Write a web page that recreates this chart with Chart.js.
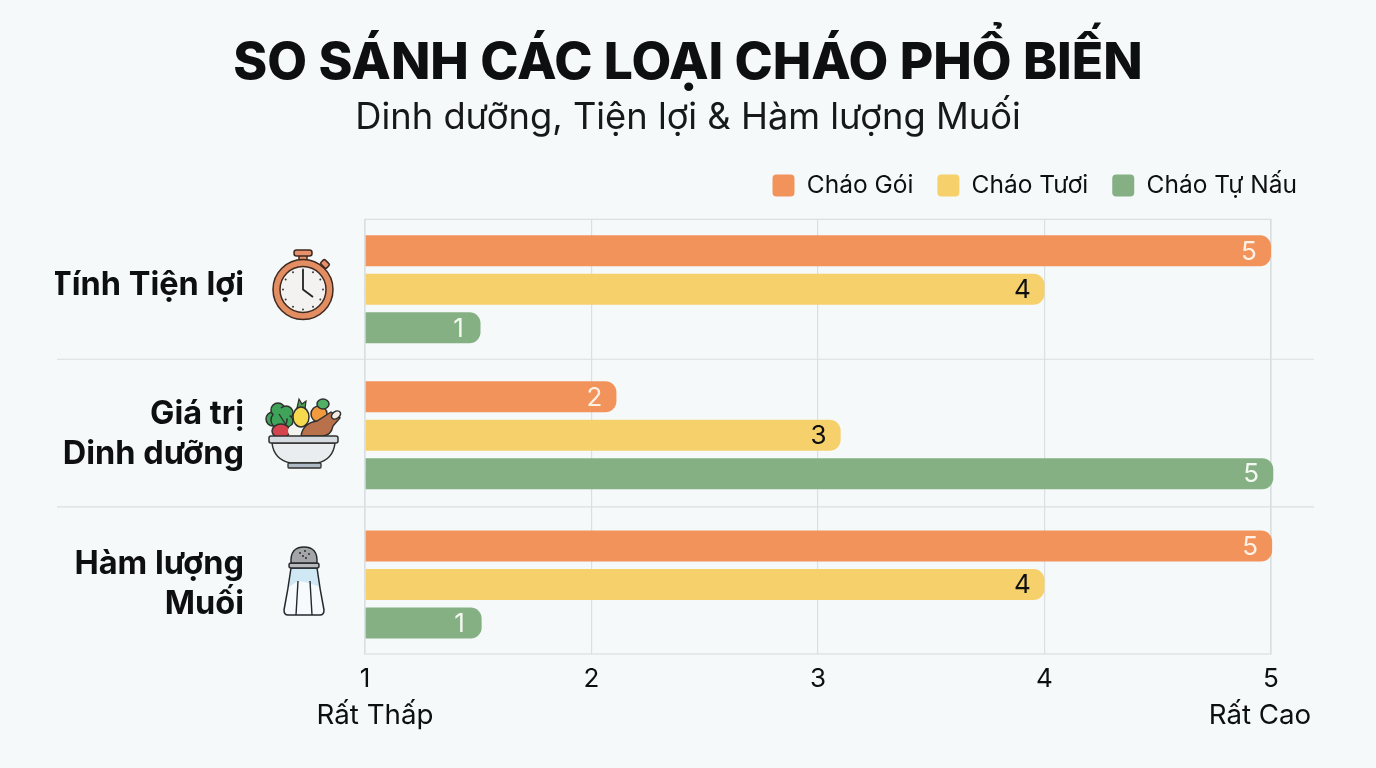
<!DOCTYPE html>
<html lang="vi"><head><meta charset="utf-8">
<script src="https://cdn.jsdelivr.net/npm/chart.js@4"></script>
<style>html,body{margin:0;padding:0;background:#f5f9fa;overflow:hidden}canvas{display:block}</style>
</head><body><canvas id="c" width="1376" height="768"></canvas>
<script>
const categories = [["Tính Tiện lợi"], ["Giá trị", "Dinh dưỡng"], ["Hàm lượng", "Muối"]];
const seriesNames = ["Cháo Gói", "Cháo Tươi", "Cháo Tự Nấu"];
const chaoGoiBars = [5.0, 2.11, 5.005];
const chaoTuoiBars = [4.0, 3.1, 4.0];
const chaoTuNauBars = [1.51, 5.01, 1.515];
const chaoGoiScores = [5, 2, 5];
const chaoTuoiScores = [4, 3, 4];
const chaoTuNauScores = [1, 5, 1];
const axisTicks = [1, 2, 3, 4, 5];
const axisEndLabels = ["Rất Thấp", "Rất Cao"];
const titleText = "SO SÁNH CÁC LOẠI CHÁO PHỔ BIẾN";
const subtitleText = "Dinh dưỡng, Tiện lợi & Hàm lượng Muối";

const FONT = "Inter, 'Noto Sans', sans-serif";
const INK = "#0e0f10", GRID = "#d9dfe2";
const ORANGE = "#f2935c", YELLOW = "#f6d16b", GREEN = "#85b084";
const rowNudge = [-2.5, -1.5, 3];
const labelNudge = [-4, -1, 0];

class RowScale extends Chart.CategoryScale {
  static id = "rows";
  getPixelForValue(v) {
    const i = typeof v === "number" ? v : this.getLabels().indexOf(v);
    return super.getPixelForValue(v) + (rowNudge[i] || 0);
  }
  getPixelForTick(i) {
    return super.getPixelForTick(i) + (labelNudge[i] || 0);
  }
}
Chart.register(RowScale);

const scoresByDataset = [chaoGoiScores, chaoTuoiScores, chaoTuNauScores];
const labelColors = ["#fdf0e4", INK, "#f3f8f1"];

function rr(c, x, y, w, h, r) { c.beginPath(); c.roundRect(x, y, w, h, r); }
function paint(c, fill, stroke, lw) {
  if (fill) { c.fillStyle = fill; c.fill(); }
  if (stroke) { c.strokeStyle = stroke; c.lineWidth = lw || 1.5; c.stroke(); }
}
function blob(c, x, y, rx, ry, fill, stroke, rot) {
  c.beginPath(); c.ellipse(x, y, rx, ry, rot || 0, 0, Math.PI * 2); paint(c, fill, stroke, 1.5);
}
function drawWatch(c) {
  const o = "#3f2a20", cx = 303, cy = 289.5;
  rr(c, 299, 255, 8, 7, 1); paint(c, "#e6916a", o, 1.5);
  rr(c, 294, 250, 18, 6, 2.5); paint(c, "#e6916a", o, 1.5);
  c.save(); c.translate(325, 264); c.rotate(Math.PI / 4);
  rr(c, -4, -3, 8, 6, 1.5); paint(c, "#e6916a", o, 1.5); c.restore();
  blob(c, cx, cy, 30, 30, "#e28d62", o);
  blob(c, cx, cy, 23, 23, "#f4f2f0", o);
  c.fillStyle = "#3b3b3b";
  for (let i = 0; i < 12; i++) {
    const a = i * Math.PI / 6;
    c.beginPath(); c.arc(cx + Math.cos(a) * 20, cy + Math.sin(a) * 20, 1, 0, 7); c.fill();
  }
  c.beginPath(); c.moveTo(cx, 270); c.lineTo(cx, cy); c.lineTo(313, 297);
  c.strokeStyle = "#222"; c.lineWidth = 1.8; c.stroke();
}
function drawBowl(c) {
  const o = "#30302e";
  [[273, 419, 7], [278, 410, 7], [286, 413, 7], [287, 421, 6], [279, 420, 8]].forEach(l => blob(c, l[0], l[1], l[2], l[2], "#3fa45a", o));
  [[279, 420, 7], [278, 412, 5], [285, 414, 5]].forEach(l => blob(c, l[0], l[1], l[2], l[2], "#3fa45a", null));
  c.beginPath(); c.moveTo(279, 414); c.lineTo(288, 428); c.strokeStyle = o; c.lineWidth = 1.3; c.stroke();
  blob(c, 281, 431, 9, 7, "#d5444c", o);
  blob(c, 294, 431, 6, 6, "#f3f3f0", null);
  c.beginPath(); c.moveTo(297, 408); c.lineTo(299, 399); c.lineTo(302, 404); c.lineTo(306, 401); c.lineTo(305, 409);
  c.closePath(); paint(c, "#4aa255", o, 1.2);
  blob(c, 301, 417, 8, 10, "#f7d94e", o);
  blob(c, 319, 414, 8, 8, "#f29a3e", o);
  blob(c, 323, 404, 6, 5, "#4fb066", o);
  c.beginPath(); c.moveTo(301, 436); c.quadraticCurveTo(303, 423, 317, 421);
  c.lineTo(331, 412); c.lineTo(340, 418); c.lineTo(333, 426); c.quadraticCurveTo(331, 436, 322, 436);
  c.closePath(); paint(c, "#b8714a", o, 1.4);
  blob(c, 336, 415, 5, 3.5, "#f3ece6", o, -0.6);
  c.beginPath(); c.moveTo(272, 443); c.lineTo(335, 443);
  c.quadraticCurveTo(333, 460, 317, 463); c.lineTo(291, 463); c.quadraticCurveTo(274, 460, 272, 443);
  c.closePath(); paint(c, "#e9edf0", o, 1.5);
  rr(c, 269, 436, 69, 7, 2); paint(c, "#d5dbe0", o, 1.5);
  rr(c, 288, 463, 33, 5, 1); paint(c, "#aebbc6", o, 1.3);
}
function drawShaker(c) {
  const o = "#24282c";
  c.beginPath(); c.moveTo(291, 568); c.lineTo(317, 568); c.quadraticCurveTo(320, 590, 324, 610);
  c.quadraticCurveTo(324, 615, 320, 615); c.lineTo(288, 615); c.quadraticCurveTo(284, 615, 284, 610);
  c.quadraticCurveTo(288, 590, 291, 568); c.closePath(); paint(c, "#f6fafc", null);
  c.beginPath(); c.moveTo(291, 568); c.lineTo(317, 568); c.lineTo(320, 587); c.quadraticCurveTo(308, 582, 298, 581);
  c.lineTo(289, 587); c.closePath(); paint(c, "#cfe8f3", null);
  c.beginPath(); c.moveTo(291, 568); c.lineTo(317, 568); c.quadraticCurveTo(320, 590, 324, 610);
  c.quadraticCurveTo(324, 615, 320, 615); c.lineTo(288, 615); c.quadraticCurveTo(284, 615, 284, 610);
  c.quadraticCurveTo(288, 590, 291, 568); c.closePath(); paint(c, null, o, 1.5);
  c.beginPath(); c.moveTo(298, 581); c.lineTo(296, 615); c.moveTo(310, 581); c.lineTo(312, 615);
  c.strokeStyle = o; c.lineWidth = 1.4; c.stroke();
  rr(c, 289, 563, 30, 5, 2); paint(c, "#b7b9bb", o, 1.4);
  c.beginPath(); c.moveTo(291, 563); c.quadraticCurveTo(290, 547, 304, 547); c.quadraticCurveTo(318, 547, 317, 563);
  c.closePath(); paint(c, "#a3a5a8", o, 1.4);
  c.fillStyle = "#222";
  [[300, 553], [305, 551], [309, 554], [303, 556], [306, 558]].forEach(p => {
    c.beginPath(); c.arc(p[0], p[1], 0.9, 0, 7); c.fill();
  });
}

const frame = {
  id: "frame",
  beforeLayout(chart) {
    const lg = chart.legend;
    if (lg && !lg._wrapped) {
      const f = lg.fit;
      lg.fit = function () { f.call(this); this.height = 70; };
      lg._wrapped = true;
    }
  },
  beforeDatasetsDraw(chart) {
    const c = chart.ctx, a = chart.chartArea;
    c.save(); c.strokeStyle = GRID; c.lineWidth = 1.2;
    c.strokeRect(a.left, a.top, a.right - a.left, a.bottom - a.top);
    [0, 1].forEach(i => {
      const top = chart.getDatasetMeta(2).data[i], bot = chart.getDatasetMeta(0).data[i + 1];
      const mid = (top.y + bot.y) / 2 - 3;
      c.beginPath(); c.moveTo(57, mid); c.lineTo(1314, mid); c.stroke();
    });
    c.restore();
  },
  afterDatasetsDraw(chart) {
    const c = chart.ctx, xs = chart.scales.x, a = chart.chartArea;
    c.save();
    c.font = "26px " + FONT; c.textAlign = "center"; c.textBaseline = "middle";
    scoresByDataset.forEach((scores, d) => {
      chart.getDatasetMeta(d).data.forEach((bar, i) => {
        c.fillStyle = labelColors[d];
        c.fillText(String(scores[i]), bar.x - 22, bar.y + 1);
      });
    });
    c.fillStyle = INK; c.font = "27.7px " + FONT;
    c.fillText(axisEndLabels[0], xs.getPixelForValue(axisTicks[0]) + 10, a.bottom + 62);
    c.fillText(axisEndLabels[1], xs.getPixelForValue(axisTicks[4]) - 11, a.bottom + 62);
    drawWatch(c); drawBowl(c); drawShaker(c);
    c.restore();
  }
};

const mkSet = (name, data, color) => ({
  label: name, data, backgroundColor: color, base: 1, borderSkipped: false, clip: false,
  borderRadius: { topLeft: 0, bottomLeft: 0, topRight: 11, bottomRight: 11 },
  categoryPercentage: 0.791, barPercentage: 0.805
});

new Chart(document.getElementById("c"), {
  type: "bar",
  data: {
    labels: categories,
    datasets: [
      mkSet(seriesNames[0], chaoGoiBars, ORANGE),
      mkSet(seriesNames[1], chaoTuoiBars, YELLOW),
      mkSet(seriesNames[2], chaoTuNauBars, GREEN)
    ]
  },
  options: {
    indexAxis: "y", responsive: false, animation: false,
    layout: { autoPadding: false, padding: { left: 55, right: 55, top: 0, bottom: 0 } },
    scales: {
      x: {
        type: "linear", min: 1, max: 5, position: "bottom",
        afterBuildTicks: s => { s.ticks = axisTicks.map(v => ({ value: v })); },
        afterFit: s => { s.height = 114; },
        grid: { color: GRID, lineWidth: 1.2, drawTicks: false },
        border: { display: false },
        ticks: { color: INK, font: { family: FONT, size: 26 }, padding: 10, maxRotation: 0, autoSkip: false }
      },
      y: {
        type: "rows", position: "left",
        afterFit: s => { s.width = 310; s.paddingTop = 0; s.paddingBottom = 0; },
        grid: { display: false }, border: { display: false },
        ticks: {
          color: INK, padding: 113, autoSkip: false,
          font: { family: FONT, size: 32.5, weight: "700", lineHeight: 1.23 }
        }
      },
      yr: {
        type: "linear", position: "right", display: true,
        afterFit: s => { s.width = 50; s.paddingTop = 0; s.paddingBottom = 0; },
        grid: { display: false }, border: { display: false }, ticks: { display: false }
      }
    },
    plugins: {
      tooltip: { enabled: false },
      title: {
        display: true, text: titleText, color: INK,
        font: { family: FONT, size: 51.5, weight: "800", lineHeight: 1.2 },
        padding: { top: 32.5, bottom: 0 }
      },
      subtitle: {
        display: true, text: subtitleText, color: "#17181a",
        font: { family: FONT, size: 36.3, weight: "400", lineHeight: 1.2 },
        padding: { top: 2, bottom: 9.5 }
      },
      legend: {
        position: "top", align: "end",
        labels: {
          color: INK, boxWidth: 22, boxHeight: 22, padding: 24, useBorderRadius: true, borderRadius: 4,
          font: { family: FONT, size: 24.5 }
        }
      }
    }
  },
  plugins: [frame]
});
</script></body></html>
